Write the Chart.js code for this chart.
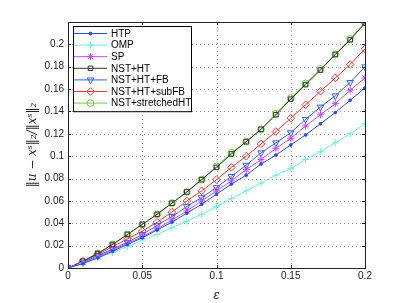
<!DOCTYPE html>
<html>
<head>
<meta charset="utf-8">
<script src="https://cdn.jsdelivr.net/npm/chart.js@4"></script>
<style>
  html, body { margin: 0; padding: 0; background: #fff; }
  #wrap { width: 403px; height: 303px; }
</style>
</head>
<body>
<div id="wrap"><canvas id="errChart" width="403" height="303"></canvas></div>
<script>
// epsilon values (x axis)
const epsValues = [0, 0.01, 0.02, 0.03, 0.04, 0.05, 0.06, 0.07, 0.08, 0.09, 0.1,
  0.11, 0.12, 0.13, 0.14, 0.15, 0.16, 0.17, 0.18, 0.19, 0.2];

const seriesNames = ["HTP", "OMP", "SP", "NST+HT", "NST+HT+FB", "NST+HT+subFB", "NST+stretchedHT"];

const htp       = [0, 0.004, 0.009, 0.015, 0.021, 0.027, 0.034, 0.041, 0.049, 0.057, 0.066, 0.075, 0.083, 0.093, 0.101, 0.110, 0.119, 0.129, 0.139, 0.150, 0.161];
const omp       = [0, 0.004, 0.009, 0.014, 0.019, 0.025, 0.030, 0.036, 0.042, 0.048, 0.055, 0.062, 0.069, 0.076, 0.083, 0.089, 0.097, 0.104, 0.112, 0.120, 0.129];
const sp        = [0, 0.005, 0.010, 0.016, 0.022, 0.028, 0.035, 0.043, 0.051, 0.060, 0.069, 0.078, 0.088, 0.097, 0.107, 0.116, 0.127, 0.137, 0.147, 0.159, 0.170];
const nstHt     = [0, 0.006, 0.013, 0.021, 0.030, 0.039, 0.048, 0.058, 0.068, 0.079, 0.090, 0.102, 0.113, 0.124, 0.137, 0.151, 0.164, 0.177, 0.191, 0.204, 0.219];
const nstHtFb   = [0, 0.005, 0.011, 0.017, 0.023, 0.030, 0.038, 0.046, 0.055, 0.063, 0.072, 0.082, 0.092, 0.103, 0.112, 0.121, 0.133, 0.144, 0.154, 0.166, 0.180];
const nstHtSub  = [0, 0.006, 0.012, 0.019, 0.026, 0.033, 0.041, 0.050, 0.060, 0.069, 0.079, 0.090, 0.100, 0.111, 0.122, 0.134, 0.146, 0.158, 0.170, 0.182, 0.196];
const nstStretch= [0, 0.006, 0.013, 0.021, 0.030, 0.039, 0.048, 0.058, 0.068, 0.079, 0.091, 0.103, 0.113, 0.124, 0.138, 0.152, 0.165, 0.178, 0.191, 0.205, 0.220];

const xTicks = [0, 0.05, 0.1, 0.15, 0.2];
const yTicks = [0, 0.02, 0.04, 0.06, 0.08, 0.1, 0.12, 0.14, 0.16, 0.18, 0.2];

const FONT = "'Liberation Sans', Arial, sans-serif";

function pts(values) {
  return values.map((v, i) => ({ x: epsValues[i], y: v }));
}

const styles = [
  { data: htp,        color: "#2a48ff", point: "circle",   radius: 1.4, rot: 0 },
  { data: omp,        color: "#6ff2d6", point: "cross",    radius: 3.5, rot: 0 },
  { data: sp,         color: "#c04cff", point: "star",     radius: 3.5, rot: 0 },
  { data: nstHt,      color: "#333333", point: "rect",     radius: 3.2, rot: 0 },
  { data: nstHtFb,    color: "#3a5cff", point: "triangle", radius: 3.8, rot: 180 },
  { data: nstHtSub,   color: "#ff3030", point: "rectRot",  radius: 3.8, rot: 0 },
  { data: nstStretch, color: "#6ad43a", point: "circle",   radius: 3.4, rot: 0 }
];

const datasets = styles.map((s, i) => ({
  label: seriesNames[i],
  data: pts(s.data),
  borderColor: s.color,
  backgroundColor: s.radius < 2 ? s.color : "rgba(0,0,0,0)",
  borderWidth: 1,
  pointStyle: s.point,
  pointRadius: s.radius,
  pointRotation: s.rot,
  pointBorderColor: s.color,
  pointBackgroundColor: s.radius < 2 ? s.color : "rgba(0,0,0,0)",
  pointBorderWidth: 1,
  tension: 0
}));

/* ===============================
   DOTTED GRID (matlab style)
================================ */
const gridPlugin = {
  id: "dotGrid",
  beforeDatasetsDraw(chart) {
    const { ctx, chartArea: a, scales } = chart;
    ctx.save();
    ctx.strokeStyle = "#9a9a9a";
    ctx.lineWidth = 1;
    ctx.setLineDash([1, 3]);
    ctx.beginPath();
    xTicks.slice(1, -1).forEach(v => {
      const px = Math.round(scales.x.getPixelForValue(v)) + 0.5;
      ctx.moveTo(px, a.bottom);
      ctx.lineTo(px, a.top);
    });
    yTicks.slice(1).forEach(v => {
      const py = Math.round(scales.y.getPixelForValue(v)) + 0.5;
      ctx.moveTo(a.left, py);
      ctx.lineTo(a.right, py);
    });
    ctx.stroke();
    ctx.restore();
  }
};

/* ===============================
   FRAME WITH INWARD TICKS
================================ */
const framePlugin = {
  id: "frame",
  afterDatasetsDraw(chart) {
    const { ctx, chartArea: a, scales } = chart;
    ctx.save();
    ctx.strokeStyle = "#222";
    ctx.lineWidth = 1;
    ctx.strokeRect(Math.round(a.left) + 0.5, Math.round(a.top) + 0.5,
      Math.round(a.right - a.left), Math.round(a.bottom - a.top));
    ctx.beginPath();
    xTicks.forEach(v => {
      const px = Math.round(scales.x.getPixelForValue(v)) + 0.5;
      ctx.moveTo(px, a.bottom); ctx.lineTo(px, a.bottom - 3);
      ctx.moveTo(px, a.top); ctx.lineTo(px, a.top + 3);
    });
    yTicks.forEach(v => {
      const py = Math.round(scales.y.getPixelForValue(v)) + 0.5;
      ctx.moveTo(a.left, py); ctx.lineTo(a.left + 3, py);
      ctx.moveTo(a.right, py); ctx.lineTo(a.right - 3, py);
    });
    ctx.stroke();
    ctx.restore();
  }
};

/* ===============================
   MATLAB STYLE LEGEND
================================ */
const legendPlugin = {
  id: "mlLegend",
  afterDraw(chart) {
    const { ctx, chartArea: a } = chart;
    const left = a.left + 5, top = a.top + 4;
    const w = 118, rowH = 11.6, h = rowH * seriesNames.length + 4;
    ctx.save();
    ctx.fillStyle = "#fff";
    ctx.fillRect(left, top, w, h);
    ctx.strokeStyle = "#000";
    ctx.lineWidth = 1;
    ctx.strokeRect(Math.round(left) + 0.5, Math.round(top) + 0.5, w, h);
    ctx.font = "10px " + FONT;
    ctx.textBaseline = "middle";
    chart.data.datasets.forEach((ds, i) => {
      const y = top + 7.5 + i * rowH;
      ctx.strokeStyle = ds.borderColor;
      ctx.lineWidth = 1;
      ctx.beginPath();
      ctx.moveTo(left + 1, y);
      ctx.lineTo(left + 34, y);
      ctx.stroke();
      ctx.fillStyle = ds.pointBackgroundColor;
      Chart.helpers.drawPoint(ctx, {
        pointStyle: ds.pointStyle,
        radius: ds.pointRadius,
        rotation: ds.pointRotation,
        borderWidth: 1
      }, left + 17.5, y);
      ctx.fillStyle = "#000";
      ctx.fillText(ds.label, left + 38, y + 0.5);
    });
    ctx.restore();
  }
};

new Chart(document.getElementById("errChart"), {
  type: "line",
  data: { datasets },
  plugins: [gridPlugin, framePlugin, legendPlugin],
  options: {
    responsive: false,
    animation: false,
    layout: { padding: { top: 22, right: 38, left: 26, bottom: 0 } },
    plugins: { legend: { display: false }, tooltip: { enabled: false } },
    scales: {
      x: {
        type: "linear",
        min: 0,
        max: 0.2,
        afterFit(s) { s.height = 35; },
        afterBuildTicks(s) { s.ticks = xTicks.map(v => ({ value: v })); },
        ticks: {
          color: "#222",
          font: { family: FONT, size: 10 },
          padding: 2,
          maxRotation: 0,
          callback: v => String(+v.toFixed(2))
        },
        grid: { display: false, drawTicks: false },
        border: { display: false },
        title: {
          display: true,
          text: "ε",
          color: "#222",
          font: { family: "'DejaVu Serif', serif", size: 12, style: "italic" },
          padding: { top: 0, bottom: 0 }
        }
      },
      y: {
        type: "linear",
        min: 0,
        max: 0.22,
        afterFit(s) { s.width = 42; },
        afterBuildTicks(s) { s.ticks = yTicks.map(v => ({ value: v })); },
        ticks: {
          color: "#222",
          font: { family: FONT, size: 10 },
          padding: 4,
          callback: v => String(+v.toFixed(2))
        },
        grid: { display: false, drawTicks: false },
        border: { display: false },
        title: {
          display: true,
          text: "‖u − xˢ‖₂/‖xˢ‖₂",
          color: "#222",
          font: { family: "'DejaVu Serif', serif", size: 12, style: "italic" },
          padding: { top: 0, bottom: 0 }
        }
      }
    }
  }
});
</script>
</body>
</html>
